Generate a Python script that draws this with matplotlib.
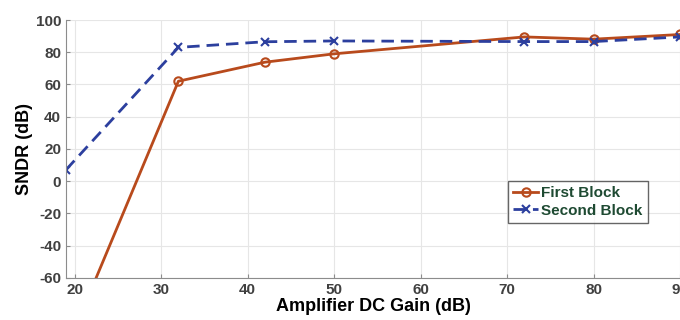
import numpy as np
import matplotlib.pyplot as plt

plt.rcParams['font.family'] = ['Liberation Sans', 'DejaVu Sans']
plt.rcParams['font.weight'] = 'bold'
plt.rcParams['axes.unicode_minus'] = False

# данные
gain_first = [20, 32, 42, 50, 72, 80, 90]
sndr_first = [-92, 62, 73.8, 79, 89.5, 88.1, 91]
gain_second = [19, 32, 42, 50, 72, 80, 90]
sndr_second = [7, 83, 86.5, 87, 86.6, 86.6, 89.5]

fig = plt.figure(figsize=(6.8, 3.2), dpi=100)
ax = fig.add_axes([0.097, 0.132, 0.903, 0.8055])

ax.plot(gain_first, sndr_first, color='#B84A1C', lw=2, marker='o', ms=6,
        mfc='none', mew=1.5, label='First Block')
ax.plot(gain_second, sndr_second, color='#2C3F9E', lw=2, ls='--', dashes=(4.5, 2.5),
        marker='x', ms=6, mew=1.5, label='Second Block')

ax.set_xlim(19, 90)
ax.set_ylim(-60, 100)
ax.set_xticks(np.arange(20, 91, 10))
ax.set_yticks(np.arange(-60, 101, 20))
ax.grid(True, color='#E6E6E6', lw=0.8)
ax.set_axisbelow(True)
for s in ['top', 'right']:
    ax.spines[s].set_visible(False)
for s in ['left', 'bottom']:
    ax.spines[s].set_color('#8C8C8C')
ax.tick_params(direction='in', colors='#8C8C8C', labelcolor='#404040',
               labelsize=11, length=3)
for lab in ax.get_xticklabels() + ax.get_yticklabels():
    lab.set_fontweight('bold')

ax.set_xlabel('Amplifier DC Gain (dB)', fontsize=13, fontweight='bold', labelpad=1)
ax.set_ylabel('SNDR (dB)', fontsize=13, fontweight='bold', labelpad=2)

leg = ax.legend(loc='upper left', bbox_to_anchor=(0.72, 0.375), fontsize=11,
                frameon=True, fancybox=False, handlelength=1.6, handletextpad=0.2,
                borderpad=0.35, labelspacing=0.2, borderaxespad=0)
leg.get_frame().set_edgecolor('#404040')
leg.get_frame().set_linewidth(1)
for t in leg.get_texts():
    t.set_color('#1E4A32')
    t.set_fontweight('bold')

fig.savefig('out.png', dpi=100)
